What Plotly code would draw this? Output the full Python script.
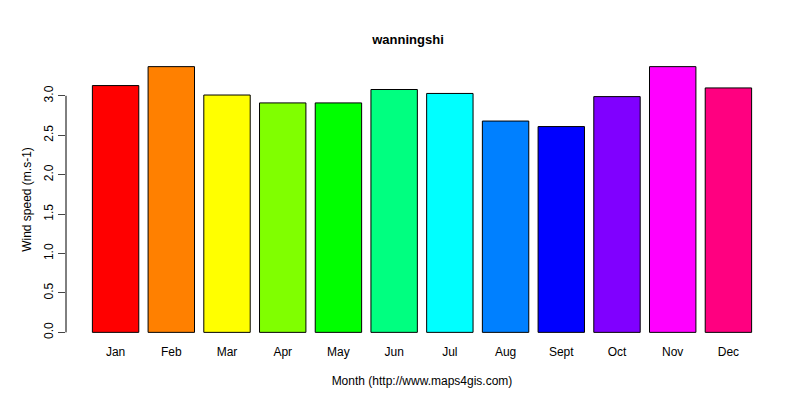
import plotly.graph_objects as go

months = ["Jan","Feb","Mar","Apr","May","Jun","Jul","Aug","Sept","Oct","Nov","Dec"]
wind = [3.13,3.37,3.01,2.91,2.91,3.08,3.03,2.68,2.61,2.99,3.37,3.10]
colors = ["#FF0000","#FF8000","#FFFF00","#80FF00","#00FF00","#00FF80",
          "#00FFFF","#0080FF","#0000FF","#8000FF","#FF00FF","#FF0080"]
yticks = [0,0.5,1.0,1.5,2.0,2.5,3.0]

fig = go.Figure(go.Bar(x=months, y=wind, marker=dict(color=colors, line=dict(color="black", width=1))))
fig.update_layout(
    width=800, height=400, plot_bgcolor="white", paper_bgcolor="white",
    margin=dict(l=58, r=30, t=48, b=65), bargap=0.167, showlegend=False,
    font=dict(family="Liberation Sans, Arial", size=12, color="black"),
    title=dict(text="<b>wanningshi</b>", x=0.5, xanchor="center", y=0.922, yanchor="middle", font=dict(size=13)),
    xaxis=dict(range=[-0.89,11.89], showline=False, ticks="", showgrid=False, automargin=False,
               title=dict(text="Month (http://www.maps4gis.com)", standoff=18, font=dict(size=12))),
    yaxis=dict(range=[-0.135,3.505], tickvals=yticks, ticktext=[f"{v:.1f}" for v in yticks],
               ticks="outside", ticklen=7, tickangle=-90, showgrid=False, zeroline=False, automargin=False,
               showline=False, title=dict(text="Wind speed (m.s-1)", standoff=8, font=dict(size=12))),
)
fig.add_shape(type="line", xref="paper", yref="y", x0=0, x1=0, y0=0, y1=3.0, line=dict(color="black", width=1))
fig.write_html("out.html")
